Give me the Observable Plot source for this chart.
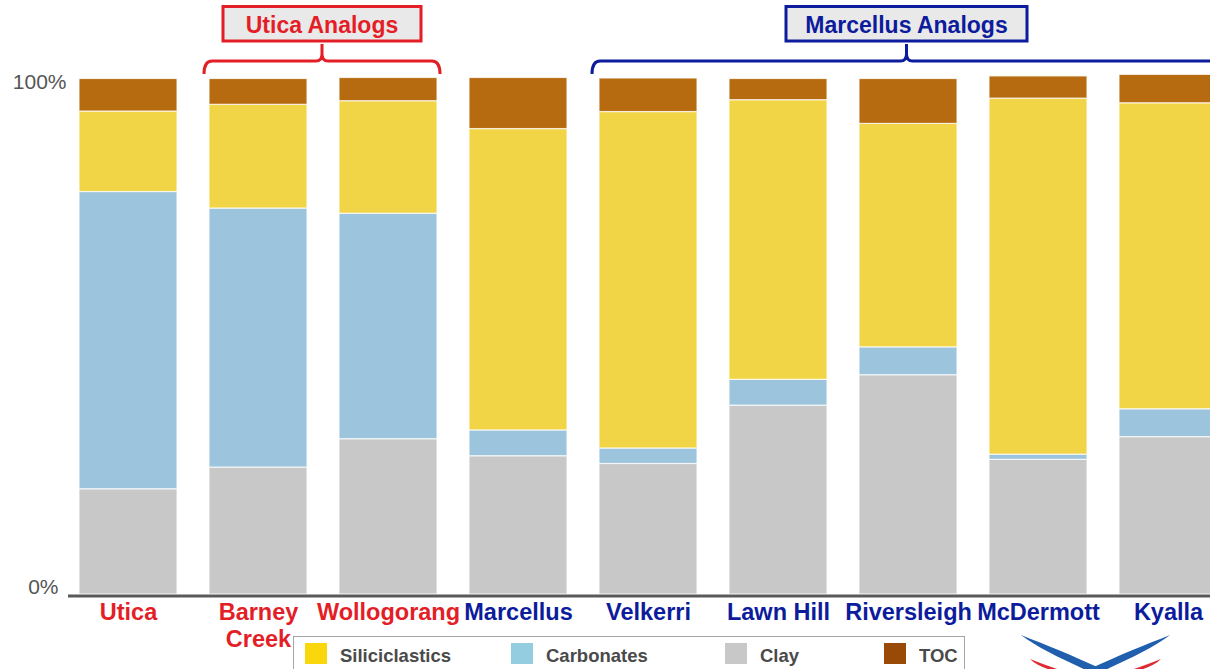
<!DOCTYPE html>
<html><head><meta charset="utf-8">
<script src="https://cdn.jsdelivr.net/npm/d3@7"></script>
<script src="https://cdn.jsdelivr.net/npm/@observablehq/plot@0.6"></script>
<style>
html,body{margin:0;padding:0;background:#fff;overflow:hidden;}
#wrap{position:relative;width:1210px;height:669px;overflow:hidden;font-family:"Liberation Sans",Arial,sans-serif;}
#wrap svg{display:block;max-width:none !important;}
#legend{position:absolute;left:293px;top:636px;width:672px;height:40px;border:1px solid #a6a6a6;box-sizing:border-box;background:#fff;}
.item{position:absolute;top:5px;height:22px;display:flex;align-items:center;font-weight:bold;font-size:18.5px;color:#4a4a4a;white-space:nowrap;}
.item .t{position:relative;top:3px;}
.sw{width:22px;height:21px;margin-right:13px;flex:none;}
#logo{position:absolute;left:1010px;top:626px;}
</style></head><body><div id="wrap"></div>
<script>
// ---- data ----
const categories = ["Utica","Barney Creek","Wollogorang","Marcellus","Velkerri","Lawn Hill","Riversleigh","McDermott","Kyalla"];
const tickLabels = ["Utica","Barney\nCreek","Wollogorang","Marcellus","Velkerri","Lawn Hill","Riversleigh","McDermott","Kyalla"];
const groups = ["Utica","Utica","Utica","Marcellus","Marcellus","Marcellus","Marcellus","Marcellus","Marcellus"];
const series = ["Clay","Carbonates","Siliciclastics","TOC"];
const clay           = [20.4, 24.6, 30.1, 26.8, 25.3, 36.6, 42.5, 26.1, 30.5];
const carbonates     = [57.6, 50.2, 43.7,  5.0,  3.0,  5.0,  5.4,  1.0,  5.4];
const siliciclastics = [15.6, 20.1, 21.8, 58.4, 65.2, 54.2, 43.3, 69.0, 59.3];
const toc            = [ 6.3,  5.0,  4.5,  9.9,  6.5,  4.1,  8.7,  4.3,  5.5];
const yTicks = [0, 100];
const legendOrder = ["Siliciclastics","Carbonates","Clay","TOC"];
const groupTitles = {Utica: "Utica Analogs", Marcellus: "Marcellus Analogs"};

// ---- styles ----
const FONT = '"Liberation Sans", Arial, sans-serif';
const barColors = {Clay:"#c8c8c8", Carbonates:"#9dc4dd", Siliciclastics:"#f1d546", TOC:"#b76b10"};
const legendColors = {Siliciclastics:"#f9d70c", Carbonates:"#93cddf", Clay:"#c8c8c8", TOC:"#994a07"};
const RED = "#e41e26", BLUE = "#0c1c9c";

const valuesBySeries = {Clay: clay, Carbonates: carbonates, Siliciclastics: siliciclastics, TOC: toc};
const data = [];
categories.forEach((c, i) => series.forEach(s => data.push({cat: c, series: s, value: valuesBySeries[s][i]})));

const labelOf = c => tickLabels[categories.indexOf(c)];
const uticaCats = categories.filter((c, i) => groups[i] === "Utica");
const marcCats = categories.filter((c, i) => groups[i] === "Marcellus");

const plot = Plot.plot({
  width: 1210, height: 669,
  marginTop: 78, marginBottom: 75, marginLeft: 68, marginRight: 0,
  style: {fontFamily: FONT, background: "transparent", maxWidth: "none"},
  x: {domain: categories, range: [60, 1235], paddingInner: 0.25, paddingOuter: 0.125, axis: null},
  y: {domain: [0, 100], axis: null},
  color: {domain: series, range: series.map(s => barColors[s])},
  marks: [
    Plot.barY(data, {x: "cat", y: "value", fill: "series", stroke: "#ffffff", strokeWidth: 1.2, strokeOpacity: 0.75}),
    Plot.ruleY([0], {stroke: "#595959", strokeWidth: 3, dy: 1.5}),
    Plot.axisY(yTicks.filter(d => d === 100), {anchor: "left", tickSize: 0, tickPadding: 2, lineAnchor: "top", dy: -4,
      tickFormat: d => d + "%", fontSize: 21, fill: "#555555", label: null}),
    Plot.axisY(yTicks.filter(d => d === 0), {anchor: "left", tickSize: 0, tickPadding: 10, lineAnchor: "bottom", dy: -1,
      tickFormat: d => d + "%", fontSize: 21, fill: "#555555", label: null}),
    Plot.text(uticaCats, {x: d => d, text: labelOf, frameAnchor: "bottom", lineAnchor: "top", dy: 6,
      fontSize: 23.5, fontWeight: "bold", fill: RED, lineHeight: 1.15}),
    Plot.text(marcCats, {x: d => d, text: labelOf, frameAnchor: "bottom", lineAnchor: "top", dy: 6,
      fontSize: 23.5, fontWeight: "bold", fill: BLUE, lineHeight: 1.15})
  ]
});

document.getElementById("wrap").appendChild(plot);

// ---- group annotations, positioned from the x scale ----
const xs = plot.scale("x");
const bw = xs.bandwidth;
const svg = d3.select(plot);
function bracket(L, R, color, title, boxW) {
  const C = (L + R) / 2;
  const g = svg.append("g");
  g.append("path")
    .attr("d", `M${L},74 Q${L},61 ${L + 8},61 H${C - 6} Q${C},61 ${C},54 V44 M${C},54 Q${C},61 ${C + 6},61 H${R - 8} Q${R},61 ${R},74`)
    .attr("fill", "none").attr("stroke", color).attr("stroke-width", 3);
  g.append("rect").attr("x", C - boxW / 2).attr("y", 6.5).attr("width", boxW).attr("height", 34.5)
    .attr("fill", "#e9e9e9").attr("stroke", color).attr("stroke-width", 3);
  g.append("text").attr("x", C).attr("y", 25).attr("text-anchor", "middle").attr("dy", "0.35em")
    .attr("font-family", FONT).attr("font-weight", "bold").attr("font-size", 23).attr("fill", color).text(title);
}
bracket(xs.apply(uticaCats[1]) - 5, xs.apply(uticaCats[uticaCats.length - 1]) + bw + 3, RED, groupTitles.Utica, 198);
bracket(xs.apply(marcCats[1]) - 7, xs.apply(marcCats[marcCats.length - 1]) + bw + 4, BLUE, groupTitles.Marcellus, 241);

// ---- legend ----
const legend = document.createElement("div");
legend.id = "legend";
const itemLeft = [11, 217, 431, 590];
legendOrder.forEach((s, i) => {
  const it = document.createElement("div");
  it.className = "item";
  it.style.left = itemLeft[i] + "px";
  it.innerHTML = `<span class="sw" style="background:${legendColors[s]}"></span><span class="t">${s}</span>`;
  legend.appendChild(it);
});
document.getElementById("wrap").appendChild(legend);

// ---- logo (decorative) ----
const logo = document.createElementNS("http://www.w3.org/2000/svg", "svg");
logo.id = "logo";
logo.setAttribute("width", 175); logo.setAttribute("height", 45);
logo.innerHTML = `
  <path d="M11,9 C28,22 50,32 78,45 L96,45 C64,30 36,19 11,9 Z" fill="#1f5fae"/>
  <path d="M160,9 C143,22 121,32 93,45 L75,45 C107,30 135,19 160,9 Z" fill="#1f5fae"/>
  <path d="M20,33 C26,39 34,42 44,45 L53,45 C41,41 30,37 20,33 Z" fill="#e02a33"/>
  <path d="M151,33 C145,39 137,42 127,45 L118,45 C130,41 141,37 151,33 Z" fill="#e02a33"/>`;
document.getElementById("wrap").appendChild(logo);
</script>
</body></html>
